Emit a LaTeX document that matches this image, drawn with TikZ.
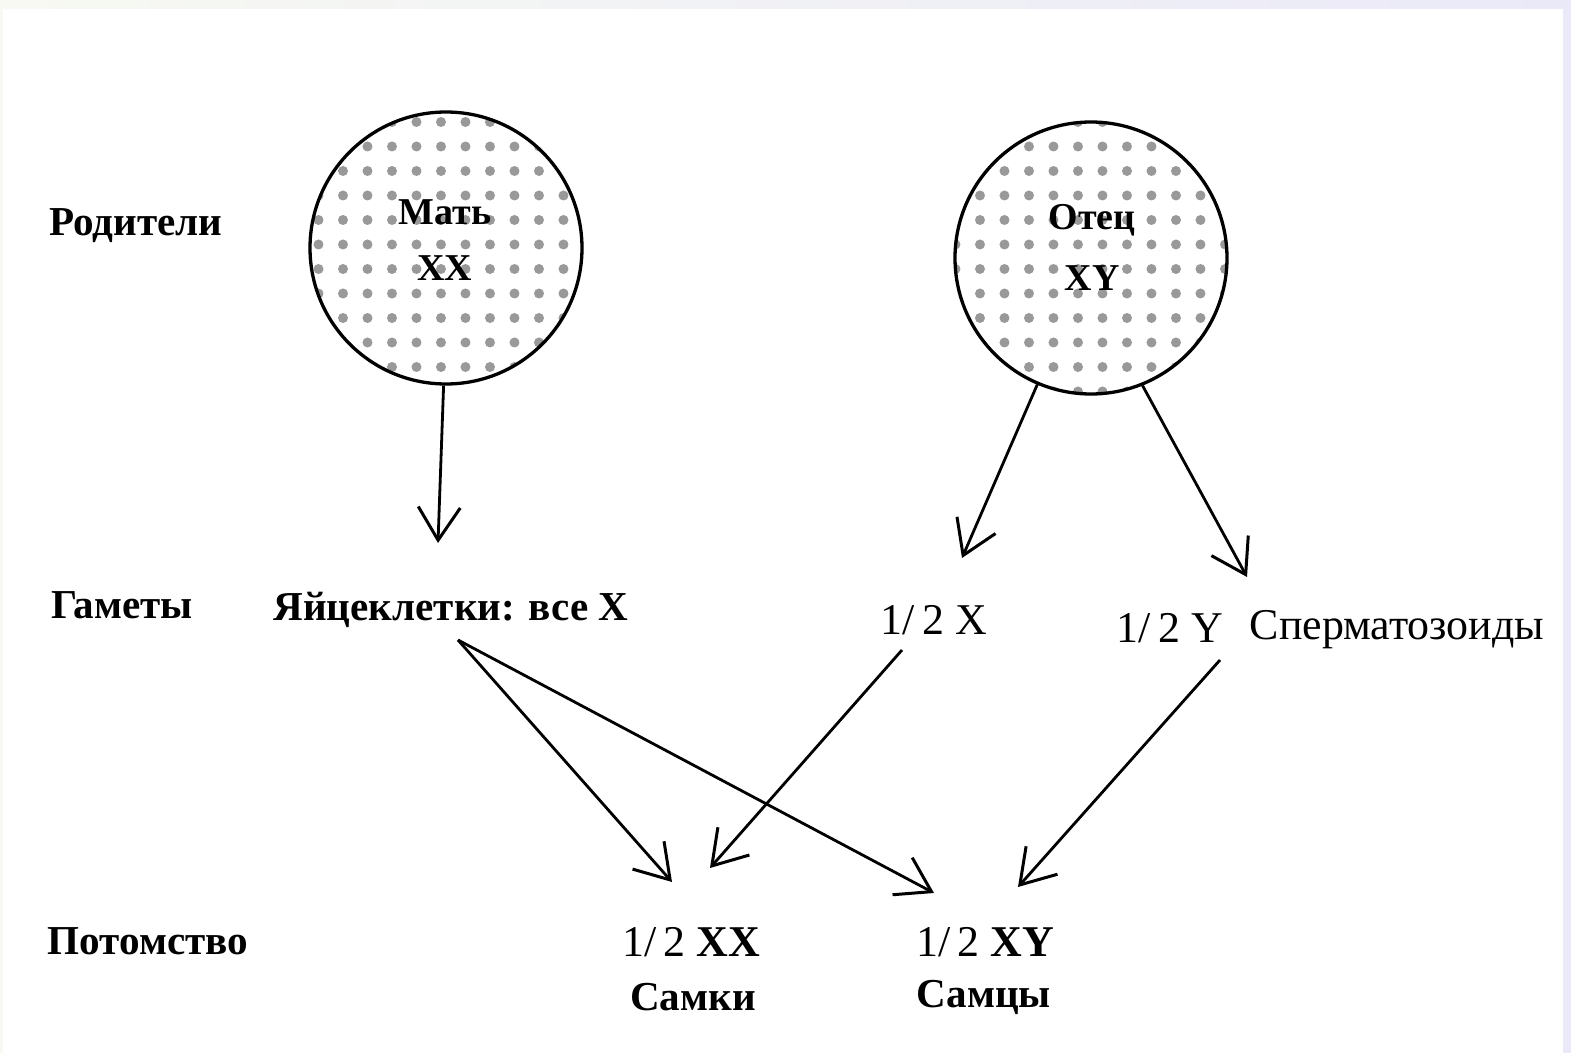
\documentclass[tikz,border=0pt]{standalone}
\usepackage{fontspec}
\setmainfont{Liberation Serif}
\usetikzlibrary{arrows.meta,patterns.meta}
\definecolor{edgeL}{RGB}{247,249,242}
\definecolor{edgeM}{RGB}{244,236,236}
\definecolor{edgeR}{RGB}{234,233,248}
\tikzset{
  parent/.style={circle, draw, line width=0.33mm, minimum size=27.2mm, inner sep=0pt,
    pattern={Dots[distance=2.45mm, radius=0.5mm]}, pattern color=gray!80},
  lbl/.style={font=\fontsize{11.7}{14}\selectfont\bfseries, inner sep=0pt},
  circlbl/.style={font=\fontsize{10.8}{13}\selectfont\bfseries, inner sep=0pt},
  txt/.style={font=\fontsize{12.5}{15}\selectfont, inner sep=0pt},
  arr/.style={line width=0.28mm, -{Straight Barb[length=3.3mm,width=4.2mm,line width=0.3mm]}}
}
\begin{document}
\begin{tikzpicture}[x=0.1mm, y=-0.1mm]
\useasboundingbox (0,0) rectangle (1571,1053);
\shade[left color=edgeL, middle color=edgeM, right color=edgeR] (0,0) rectangle (1571,1053);
\fill[white] (3,9) rectangle (1563,1053);

\node[lbl] (parents) at (136,226) {Родители};
\node[lbl] (gametes) at (122,605) {Гаметы};
\node[lbl] (offspring) at (148,941) {Потомство};

\node[parent] (mother) at (446,248) {};
\node[circlbl] (motherName) at (445,212) {Мать};
\node[circlbl] (motherXX) at (445,268) {XX};
\node[parent] (father) at (1091,258) {};
\node[circlbl] (fatherName) at (1092,220) {Отец};
\node[circlbl] (fatherXY) at (1092,278) {XY};

\node[lbl] (eggs) at (451,610) {Яйцеклетки: все X};
\node[txt] (spermX) at (934,620) {1/\,2 X};
\node[txt] (spermY) at (1170,628) {1/\,2 Y};
\node[txt] (sperm) at (1397,630) {Сперматозоиды};

\node[txt] (daughters) at (691,942) {1/\,2 \textbf{XX}};
\node[lbl] (daughtersName) at (693,997) {Самки};
\node[txt] (sons) at (985,942) {1/\,2 \textbf{XY}};
\node[lbl] (sonsName) at (984,997) {Самцы};

\coordinate (eggTip) at (438,543);
\coordinate (xTip) at (962,558);
\coordinate (yTip) at (1247,577);
\coordinate (eggOut) at (458,640);
\coordinate (xOut) at (902,650);
\coordinate (yOut) at (1220,660);
\coordinate (dTip1) at (672,882);
\coordinate (dTip2) at (710,868);
\coordinate (sTip1) at (934,893);
\coordinate (sTip2) at (1018,887);

\draw[arr] (mother.-91) -- (eggTip);
\draw[arr] (father.-113) -- (xTip);
\draw[arr] (father.-68) -- (yTip);
\draw[arr] (eggOut) -- (dTip1);
\draw[arr] (eggOut) -- (sTip1);
\draw[arr] (xOut) -- (dTip2);
\draw[arr] (yOut) -- (sTip2);
\end{tikzpicture}
\end{document}
